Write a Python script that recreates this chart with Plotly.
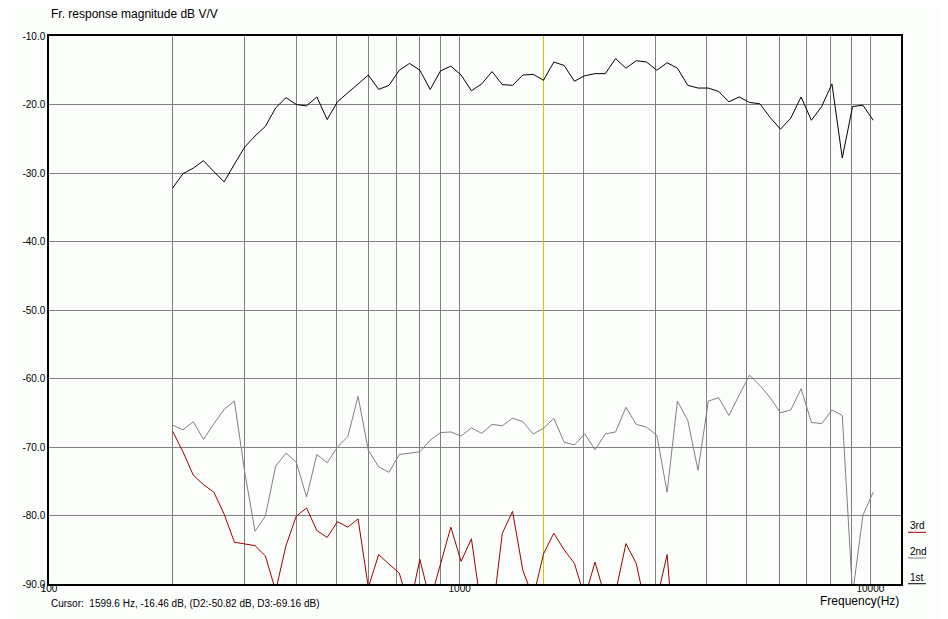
import plotly.graph_objects as go

# 1/12 octave analysis points, 200 Hz .. 10 kHz
freq = [200, 211.9, 224.5, 237.8, 252.0, 267.0, 282.8, 299.7, 317.5, 336.4,
        356.4, 377.6, 400, 423.8, 449.0, 475.7, 504.0, 534.0, 565.7, 599.3,
        635.0, 672.7, 712.7, 755.1, 800, 847.6, 898.0, 951.4, 1008, 1068,
        1131, 1199, 1270, 1345, 1425, 1510, 1600, 1695, 1796, 1903,
        2016, 2136, 2263, 2397, 2540, 2691, 2851, 3020, 3200, 3390,
        3592, 3805, 4032, 4271, 4525, 4795, 5080, 5382, 5702, 6041,
        6400, 6781, 7184, 7611, 8063, 8543, 9051, 9589, 10159]

first = [-32.2, -30.1, -29.3, -28.2, -29.8, -31.3, -28.7, -26.2, -24.6, -23.2,
         -20.5, -19.0, -20.0, -20.2, -18.9, -22.2, -19.6, -18.3, -17.1, -15.7,
         -17.8, -17.2, -15.0, -14.0, -15.0, -17.8, -15.1, -14.4, -15.7, -18.0,
         -17.0, -15.2, -17.1, -17.2, -15.7, -15.6, -16.46, -13.8, -14.3, -16.6,
         -15.8, -15.5, -15.5, -13.3, -14.7, -13.6, -13.8, -15.0, -13.9, -14.7,
         -17.2, -17.6, -17.6, -18.1, -19.6, -18.9, -19.7, -19.9, -21.9, -23.6,
         -22.0, -18.9, -22.3, -20.3, -17.0, -27.8, -20.3, -20.1, -22.3]

second = [-66.8, -67.5, -66.3, -68.9, -66.6, -64.5, -63.3, -73.7, -82.3, -80.1,
          -72.8, -70.9, -72.2, -77.3, -71.1, -72.3, -70.0, -68.5, -62.6, -70.5,
          -72.9, -73.7, -71.1, -70.9, -70.7, -69.0, -67.9, -67.8, -68.4, -67.2,
          -68.0, -66.7, -66.9, -65.8, -66.3, -68.1, -67.28, -65.8, -69.3, -69.7,
          -68.1, -70.4, -68.1, -67.8, -64.2, -66.7, -67.1, -68.3, -76.6, -63.3,
          -66.1, -73.4, -63.3, -62.8, -65.4, -62.4, -59.5, -61.0, -62.8, -65.0,
          -64.6, -61.5, -66.4, -66.6, -64.6, -65.4, -91.5, -80.0, -76.6]

third = [-67.7, -70.7, -74.1, -75.5, -76.6, -79.8, -83.9, -84.1, -84.4, -85.9,
         -91.0, -84.4, -80.1, -78.9, -82.2, -83.2, -80.9, -81.7, -80.5, -90.5,
         -85.7, -87.1, -88.4, -93.5, -86.4, -92.5, -86.9, -81.7, -86.7, -83.4,
         -94.0, -95.0, -82.6, -79.4, -88.0, -92.0, -85.6, -82.6, -85.0, -87.0,
         -92.0, -86.8, -92.0, -91.2, -84.1, -87.0, -94.0, -92.3, -85.7, -105.0]
third = third + [None] * (len(freq) - len(third))

cursor_freq = 1599.6
cursor_text = "Cursor:  1599.6 Hz, -16.46 dB, (D2:-50.82 dB, D3:-69.16 dB)"

x_grid = [100, 200, 300, 400, 500, 600, 700, 800, 900,
          1000, 2000, 3000, 4000, 5000, 6000, 7000, 8000, 9000, 10000]
x_labels = ["100", "", "", "", "", "", "", "", "",
            "1000", "", "", "", "", "", "", "", "", "10000"]
y_grid = [-10, -20, -30, -40, -50, -60, -70, -80, -90]
y_labels = ["-10.0", "-20.0", "-30.0", "-40.0", "-50.0", "-60.0", "-70.0", "-80.0", "-90.0"]

legend_names = ["3rd", "2nd", "1st"]
legend_colors = ["#990000", "#808080", "#000000"]

font = "Arial, Liberation Sans, sans-serif"
bg = "#fcfefc"

fig = go.Figure()
fig.add_trace(go.Scatter(x=[cursor_freq, cursor_freq], y=[y_grid[-1], y_grid[0]], mode="lines",
                         line=dict(color="#c8c800", width=1), hoverinfo="skip"))
fig.add_trace(go.Scatter(x=freq, y=first, mode="lines", line=dict(color="#000000", width=1), name="1st"))
fig.add_trace(go.Scatter(x=freq, y=second, mode="lines", line=dict(color="#808080", width=1), name="2nd"))
fig.add_trace(go.Scatter(x=freq, y=third, mode="lines", line=dict(color="#990000", width=1), name="3rd"))

# page body adds 8px, so the figure is 8px smaller and margins shifted
fig.update_layout(
    width=940, height=611,
    margin=dict(l=41, r=47, t=28, b=35),
    paper_bgcolor=bg, plot_bgcolor=bg,
    showlegend=False,
    font=dict(family=font, size=10, color="#000000"),
)
fig.update_xaxes(type="log", range=[2, 4.0746], tickvals=x_grid, ticktext=x_labels,
                 showgrid=True, gridcolor="#808080", gridwidth=1,
                 showline=True, linecolor="#000000", linewidth=1.5, mirror=True,
                 ticks="", tickfont=dict(size=10), ticklabelstandoff=-6)
fig.update_yaxes(range=[-90, -10], tickvals=y_grid, ticktext=y_labels,
                 showgrid=True, gridcolor="#808080", gridwidth=1, zeroline=False,
                 showline=True, linecolor="#000000", linewidth=1.5, mirror=True,
                 ticks="", tickfont=dict(size=10))

fig.add_annotation(text="Fr. response magnitude dB V/V", xref="paper", yref="paper",
                   x=0, y=1.040, xanchor="left", yanchor="middle", showarrow=False,
                   font=dict(size=12))
fig.add_annotation(text="Frequency(Hz)", xref="paper", yref="paper",
                   x=1, y=-0.031, xanchor="right", yanchor="middle", showarrow=False,
                   font=dict(size=12))
fig.add_annotation(text=cursor_text, xref="paper", yref="paper",
                   x=0, y=-0.035, xanchor="left", yanchor="middle", showarrow=False,
                   font=dict(size=10))

# little legend on the right: name with coloured underline
for i, (name, col) in enumerate(zip(legend_names, legend_colors)):
    y_line = 0.0943 - i * 0.0469
    fig.add_annotation(text=name, xref="paper", yref="paper", x=1.0082, y=y_line + 0.012,
                       xanchor="left", yanchor="middle", showarrow=False, font=dict(size=10))
    fig.add_shape(type="line", xref="paper", yref="paper", x0=1.0082, x1=1.0293,
                  y0=y_line, y1=y_line, line=dict(color=col, width=1))

fig.write_html("out.html")
